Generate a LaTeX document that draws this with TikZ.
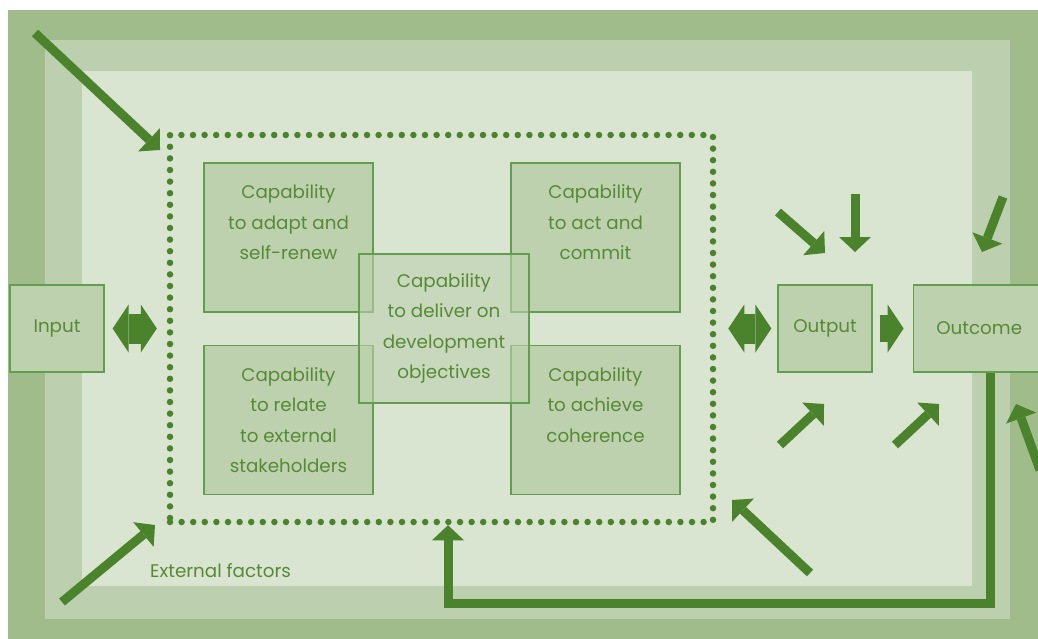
\documentclass[tikz,border=0pt]{standalone}
\usepackage{fontspec}
\setmainfont{Poppins}
\usepackage{tikz}
\usetikzlibrary{positioning}
\usetikzlibrary{calc}
\usetikzlibrary{arrows.meta}
\definecolor{bandout}{HTML}{A1BC8B}
\definecolor{bandmid}{HTML}{BCCFAE}
\definecolor{bandin}{HTML}{D9E4D1}
\definecolor{boxfill}{HTML}{BED1AF}
\definecolor{boxline}{HTML}{619E4E}
\definecolor{arrowgreen}{HTML}{4A832C}
\definecolor{textgreen}{HTML}{578A35}
\def\capfont{\fontsize{18.3}{30.5}\selectfont}
\tikzset{
	capbox/.style={
		draw=boxline, fill=boxfill, line width=1.2pt,
		minimum width=169pt, minimum height=149pt,
		align=center, text=textgreen, font=\capfont
	},
	endbox/.style={
		draw=boxline, fill=boxfill, line width=1.2pt,
		minimum height=87pt, text=textgreen, font=\capfont
	},
	coreframe/.style={
		draw=arrowgreen, line width=6.5pt, line cap=round,
		dash pattern=on 0pt off 11.6pt
	},
	extarrow/.style={
		draw=arrowgreen, line width=9pt,
		-{Triangle[width=32pt,length=15pt,line width=0pt]}
	},
	dblarrow/.style={
		draw=arrowgreen, line width=30pt,
		{Triangle[width=48pt,length=16pt,line width=0pt]}-{Triangle[width=48pt,length=16pt,line width=0pt]}
	},
	onearrow/.style={
		draw=arrowgreen, line width=27pt,
		-{Triangle[width=48pt,length=16pt,line width=0pt]}
	},
	labeltext/.style={
		text=textgreen, font=\capfont, inner sep=0pt
	}
}

\begin{document}
\begin{tikzpicture}[x=1pt, y=-1pt]
	\path[use as bounding box, clip] (0,0) rectangle (1038,639);
	% nested bands
	\fill[bandout] (8,10) rectangle (1045,645);
	\fill[bandmid] (45,40) rectangle (1010,619);
	\fill[bandin] (82,71) rectangle (972,586);

	\node[coreframe, minimum width=543pt, minimum height=387pt] (core) at (441.5,328.5) {};

	\node[capbox] (adapt) at (288.5,237.5) {Capability\\to adapt and\\self-renew\\\mbox{}};
	\node[capbox] (relate) at (288.5,420) {Capability\\to relate\\to external\\stakeholders};
	\node[capbox] (act) at (595.5,237.5) {Capability\\to act and\\commit\\\mbox{}};
	\node[capbox] (cohere) at (595.5,420) {Capability\\to achieve\\coherence\\\mbox{}};
	\node[capbox, fill opacity=.6, text opacity=1, minimum width=170pt] (deliver) at (444,328.5) {Capability\\to deliver on\\development\\objectives};

	\node[endbox, minimum width=94pt] (input) at (57,328.5) {Input};
	\node[endbox, minimum width=94pt] (output) at (825,328.5) {Output};
	\node[endbox, minimum width=132pt, right=40pt of output] (outcome) {Outcome};

	\draw[dblarrow] ([xshift=8pt]input.east) -- ([xshift=-10pt]core.west |- input.east);
	\draw[dblarrow] ([xshift=12pt]core.east |- output.west) -- ([xshift=-6pt]output.west);
	\draw[onearrow] ([xshift=7pt]output.east) -- ([xshift=-9pt]outcome.west);

	% external factors
	\foreach \n/\tx/\ty/\hx/\hy in {1/35/33/160/150, 2/62/602/155/525, 3/778/212/825/253,
		4/855/194/855/252, 5/1003/197/982/252, 6/780/445/824/404, 7/895/445/939/404,
		8/1040/470/1016/404, 9/810/573/732/500}{
		\coordinate (ef\n-tail) at (\tx,\ty);
		\coordinate (ef\n-head) at (\hx,\hy);
		\draw[extarrow] (ef\n-tail) -- (ef\n-head);
	}
	\node[labeltext, anchor=west] (extlabel) at (150,571) {External factors};

	% feedback loop
	\coordinate (fbdrop) at (990,603);
	\coordinate (fbturn) at (448,603);
	\draw[extarrow] (outcome.south -| fbdrop) -- (fbdrop) -- (fbturn) -- (fbturn |- core.south);
\end{tikzpicture}
\end{document}
